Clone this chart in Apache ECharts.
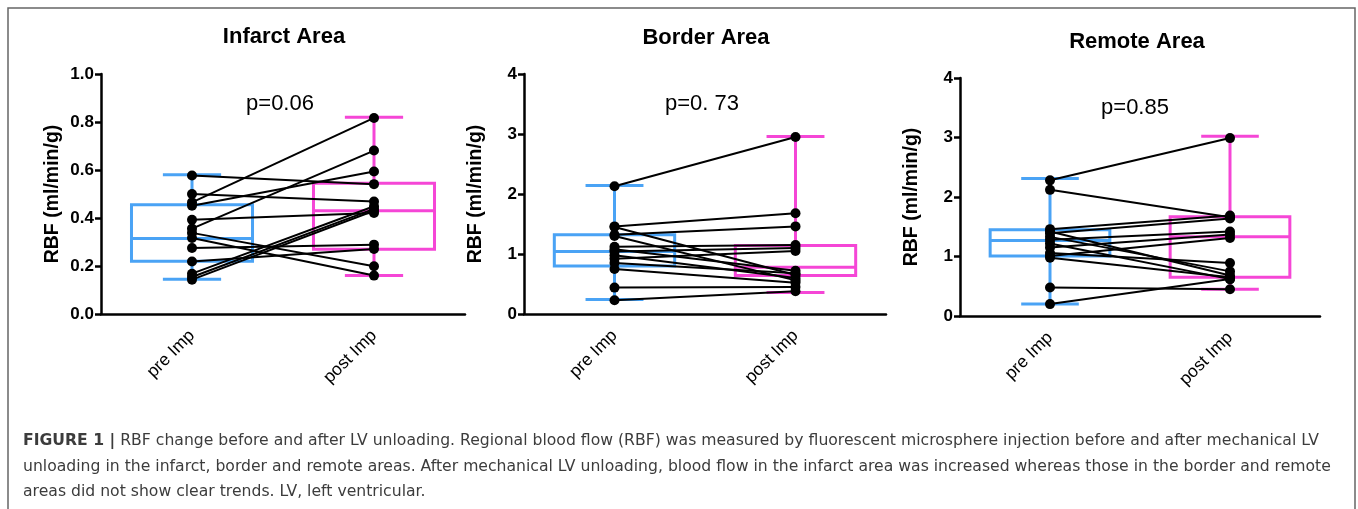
<!DOCTYPE html>
<html>
<head>
<meta charset="utf-8">
<script src="https://cdn.jsdelivr.net/npm/echarts@6/dist/echarts.min.js"></script>
<style>
html,body{margin:0;padding:0;background:#fff;}
#chart{width:1358px;height:509px;}
</style>
</head>
<body>
<div id="chart"></div>
<script>
// ---- data ----
const categories = ['pre Imp', 'post Imp'];
const panelTitles = ['Infarct Area', 'Border Area', 'Remote Area'];
const pTexts = ['p=0.06', 'p=0. 73', 'p=0.85'];
const yAxisName = 'RBF (ml/min/g)';

// paired subject values (pre, post)
const infarctPre  = [0.577, 0.500, 0.465, 0.451, 0.393, 0.356, 0.338, 0.317, 0.275, 0.219, 0.168, 0.154, 0.143];
const infarctPost = [0.541, 0.469, 0.817, 0.594, 0.421, 0.681, 0.199, 0.160, 0.289, 0.271, 0.449, 0.438, 0.430];

const borderPre  = [2.13, 1.46, 1.45, 1.32, 1.30, 1.12, 1.08, 1.04, 0.98, 0.92, 0.85, 0.75, 0.44, 0.23];
const borderPost = [2.95, 1.68, 0.65, 1.46, 0.56, 1.15, 0.72, 1.10, 0.60, 1.05, 0.68, 0.52, 0.45, 0.38];

const remotePre  = [2.28, 2.12, 1.46, 1.42, 1.39, 1.33, 1.28, 1.22, 1.15, 1.06, 1.01, 0.98, 0.48, 0.20];
const remotePost = [2.99, 1.66, 1.69, 0.68, 1.64, 0.75, 1.42, 0.62, 1.37, 0.89, 1.31, 0.65, 0.45, 0.62];

// box statistics [min, q1, median, q3, max] for pre / post
const infarctBoxPre  = [0.145, 0.22, 0.315, 0.455, 0.58];
const infarctBoxPost = [0.16, 0.27, 0.43, 0.545, 0.82];
const borderBoxPre   = [0.24, 0.80, 1.04, 1.32, 2.14];
const borderBoxPost  = [0.36, 0.64, 0.78, 1.14, 2.96];
const remoteBoxPre   = [0.20, 1.01, 1.27, 1.45, 2.31];
const remoteBoxPost  = [0.45, 0.65, 1.33, 1.67, 3.02];

// y-axis scales
const yMax = [1.0, 4, 4];
const yInterval = [0.2, 1, 1];

// ---- build ----
const boxColors = ['#4aa3f5', '#f546d6'];
const FONT = '"Liberation Sans", Arial, Helvetica, sans-serif';
const CAPFONT = '"DejaVu Sans", sans-serif';

const grids = [
  {left: 101, top: 74, width: 364, height: 240},
  {left: 524, top: 74, width: 362, height: 240},
  {left: 960, top: 78, width: 360, height: 238}
];

const panels = [
  {pre: infarctPre, post: infarctPost, boxPre: infarctBoxPre, boxPost: infarctBoxPost},
  {pre: borderPre, post: borderPost, boxPre: borderBoxPre, boxPost: borderBoxPost},
  {pre: remotePre, post: remotePost, boxPre: remoteBoxPre, boxPost: remoteBoxPost}
];

const xAxes = grids.map((g, i) => ({
  type: 'category', gridIndex: i, data: categories, boundaryGap: true,
  axisLine: {lineStyle: {color: '#000', width: 2.5}},
  axisTick: {alignWithLabel: true, length: 7, lineStyle: {color: '#000', width: 2.5}},
  axisLabel: {rotate: 45, fontSize: 17.5, color: '#000', margin: 19, fontFamily: FONT},
  splitLine: {show: false}
}));

const yAxes = grids.map((g, i) => ({
  type: 'value', gridIndex: i, min: 0, max: yMax[i], interval: yInterval[i],
  name: yAxisName, nameLocation: 'middle', nameGap: 38, nameRotate: 90,
  nameTextStyle: {fontSize: 19.5, fontWeight: 'bold', color: '#000', fontFamily: FONT},
  axisLine: {show: true, lineStyle: {color: '#000', width: 2.5}},
  axisTick: {show: true, length: 6, lineStyle: {color: '#000', width: 2.5}},
  axisLabel: {fontSize: 17, fontWeight: 'bold', color: '#000', margin: 7, fontFamily: FONT,
    formatter: v => (i === 0 ? v.toFixed(1) : String(v))},
  splitLine: {show: false}
}));

function renderBox(params, api) {
  const x = api.value(0);
  const mn = api.value(1), q1 = api.value(2), md = api.value(3), q3 = api.value(4), mx = api.value(5);
  const band = api.size([1, 0])[0];
  const bw = band * 0.665, cw = band * 0.32;
  const c = api.coord([x, md]);
  const cx = c[0];
  const yMin = api.coord([x, mn])[1], yQ1 = api.coord([x, q1])[1], yMd = c[1],
        yQ3 = api.coord([x, q3])[1], yMx = api.coord([x, mx])[1];
  const style = {stroke: boxColors[x], lineWidth: 3, fill: null};
  return {
    type: 'group',
    children: [
      {type: 'rect', shape: {x: cx - bw / 2, y: yQ3, width: bw, height: yQ1 - yQ3}, style: style},
      {type: 'line', shape: {x1: cx - bw / 2, y1: yMd, x2: cx + bw / 2, y2: yMd}, style: style},
      {type: 'line', shape: {x1: cx, y1: yQ3, x2: cx, y2: yMx}, style: style},
      {type: 'line', shape: {x1: cx, y1: yQ1, x2: cx, y2: yMin}, style: style},
      {type: 'line', shape: {x1: cx - cw / 2, y1: yMx, x2: cx + cw / 2, y2: yMx}, style: style},
      {type: 'line', shape: {x1: cx - cw / 2, y1: yMin, x2: cx + cw / 2, y2: yMin}, style: style}
    ]
  };
}

const series = [];
panels.forEach((p, i) => {
  series.push({
    type: 'custom', xAxisIndex: i, yAxisIndex: i, z: 1,
    renderItem: renderBox,
    encode: {x: 0, y: [1, 2, 3, 4, 5]},
    data: [[0].concat(p.boxPre), [1].concat(p.boxPost)],
    silent: true
  });
  p.pre.forEach((v, k) => {
    series.push({
      type: 'line', xAxisIndex: i, yAxisIndex: i, z: 3,
      data: [[categories[0], v], [categories[1], p.post[k]]],
      symbol: 'circle', symbolSize: 10, showSymbol: true,
      itemStyle: {color: '#000'},
      lineStyle: {color: '#000', width: 2},
      animation: false, silent: true
    });
  });
});

const textEl = (x, y, text, size, weight) => ({
  type: 'text', x: x, y: y, silent: true,
  style: {text: text, fill: '#000', font: weight + ' ' + size + 'px ' + FONT,
    align: 'center', verticalAlign: 'middle', textAlign: 'center', textVerticalAlign: 'middle'}
});

const captionLines = [
  '{b|FIGURE 1 |} RBF change before and after LV unloading. Regional blood flow (RBF) was measured by fluorescent microsphere injection before and after mechanical LV',
  'unloading in the infarct, border and remote areas. After mechanical LV unloading, blood flow in the infarct area was increased whereas those in the border and remote',
  'areas did not show clear trends. LV, left ventricular.'
];

const graphics = [
  {type: 'rect', shape: {x: 8, y: 8, width: 1347, height: 540}, silent: true,
   style: {stroke: '#666', lineWidth: 1.5, fill: null}},
  textEl(284, 37, panelTitles[0], 22, 'bold'),
  textEl(706, 38, panelTitles[1], 22, 'bold'),
  textEl(1137, 42, panelTitles[2], 22, 'bold'),
  textEl(280, 104, pTexts[0], 22, 'normal'),
  textEl(702, 104, pTexts[1], 22, 'normal'),
  textEl(1135, 108, pTexts[2], 22, 'normal')
];
captionLines.forEach((t, k) => {
  graphics.push({
    type: 'text', x: 23, y: 441 + k * 25.5, silent: true,
    style: {text: t, fill: '#3c3c3c', font: 'normal 15.65px ' + CAPFONT,
      align: 'left', verticalAlign: 'middle', textAlign: 'left', textVerticalAlign: 'middle',
      rich: {b: {fontWeight: 'bold', fontSize: 15.65, fill: '#3c3c3c', fontFamily: CAPFONT}}}
  });
});

const chart = echarts.init(document.getElementById('chart'), null, {renderer: 'canvas'});
chart.setOption({
  animation: false,
  backgroundColor: '#fff',
  grid: grids,
  xAxis: xAxes,
  yAxis: yAxes,
  series: series,
  graphic: graphics
});
</script>
</body>
</html>
